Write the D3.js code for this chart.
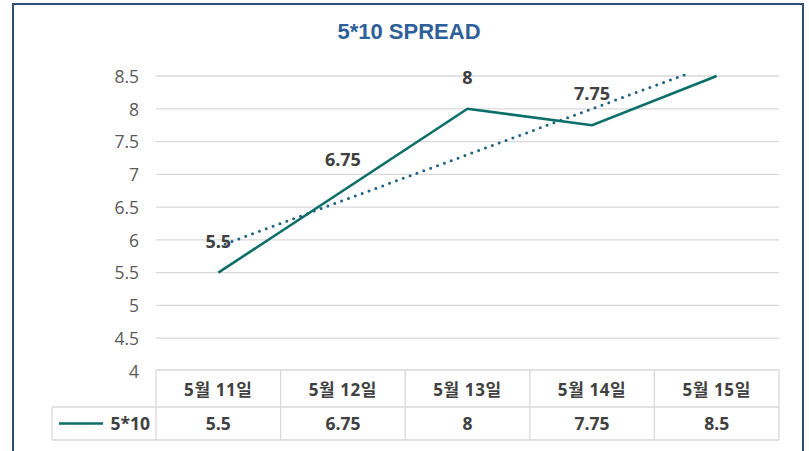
<!DOCTYPE html>
<html>
<head>
<meta charset="utf-8">
<script src="https://cdn.jsdelivr.net/npm/d3@7"></script>
<style>
  body { margin: 0; background: #fff; }
  svg { display: block; }
</style>
</head>
<body>
<div id="chart"></div>
<script>
// data
const categories = ['5월 11일', '5월 12일', '5월 13일', '5월 14일', '5월 15일'];
const seriesName = '5*10';
const values = [5.5, 6.75, 8, 7.75, 8.5];
const yTicks = [4, 4.5, 5, 5.5, 6, 6.5, 7, 7.5, 8, 8.5];

const W = 809, H = 451;
const margin = { left: 156, right: 30, top: 76, plotBottom: 371 };
const txtFont = '"Open Sans", "Noto Sans CJK KR", sans-serif';

const svg = d3.select('#chart').append('svg')
    .attr('width', W)
    .attr('height', H);

// chart frame
svg.append('rect')
    .attr('x', 13).attr('y', 4)
    .attr('width', 790).attr('height', 460)
    .attr('fill', '#fff')
    .attr('stroke', '#2f4f78')
    .attr('stroke-width', 2);

// title
svg.append('text')
    .attr('x', 409).attr('y', 39)
    .attr('text-anchor', 'middle')
    .style('font', 'bold 22px "Liberation Sans", Arial, sans-serif')
    .style('fill', '#2e5f98')
    .text('5*10 SPREAD');

const x = d3.scaleBand()
    .domain(categories)
    .range([margin.left, W - margin.right]);

const y = d3.scaleLinear()
    .domain([4, 8.5])
    .range([margin.plotBottom, margin.top]);

// grid
svg.append('g')
    .selectAll('line')
    .data(yTicks.slice(1))
    .join('line')
    .attr('x1', margin.left).attr('x2', W - margin.right)
    .attr('y1', d => y(d)).attr('y2', d => y(d))
    .attr('stroke', '#d9d9d9')
    .attr('stroke-width', 1.3);

// y axis labels
const yAxis = svg.append('g')
    .attr('transform', `translate(${margin.left - 17},0)`)
    .call(d3.axisLeft(y).tickValues(yTicks).tickSize(0).tickPadding(0).tickFormat(d => d));
yAxis.select('.domain').remove();
yAxis.selectAll('text')
    .attr('dy', '0.36em')
    .style('font', `17.5px ${txtFont}`)
    .style('fill', '#595959');

// clip for plot area
svg.append('clipPath').attr('id', 'plotClip')
    .append('rect')
    .attr('x', margin.left).attr('y', margin.top - 2)
    .attr('width', W - margin.right - margin.left)
    .attr('height', margin.plotBottom - margin.top + 2);

const cx = d => x(d) + x.bandwidth() / 2;

// linear trendline (least squares on the series)
const idx = values.map((v, i) => i);
const mx = d3.mean(idx), my = d3.mean(values);
const slope = d3.sum(idx, i => (i - mx) * (values[i] - my)) / d3.sum(idx, i => (i - mx) ** 2);
const icpt = my - slope * mx;
const step = x.step();
const trend = [0, values.length - 1].map(i => [cx(categories[0]) + i * step, y(icpt + slope * i)]);

svg.append('path')
    .attr('clip-path', 'url(#plotClip)')
    .attr('d', d3.line()(trend))
    .attr('fill', 'none')
    .attr('stroke', '#1d6384')
    .attr('stroke-width', 3)
    .attr('stroke-linecap', 'round')
    .attr('stroke-dasharray', '0 7.3');

// main line
svg.append('path')
    .datum(values)
    .attr('d', d3.line().x((d, i) => cx(categories[i])).y(d => y(d)))
    .attr('fill', 'none')
    .attr('stroke', '#0b6e69')
    .attr('stroke-width', 2.6)
    .attr('stroke-linejoin', 'miter');

// data labels (the one that would sit above the plot area is hidden, as in the original)
svg.append('g')
    .selectAll('text')
    .data(values.map((v, i) => ({ v, c: categories[i] })).filter(d => y(d.v) - 25 > 60))
    .join('text')
    .attr('x', d => cx(d.c))
    .attr('y', d => y(d.v) - 25)
    .attr('text-anchor', 'middle')
    .style('font', `bold 18px ${txtFont}`)
    .style('fill', '#404040')
    .text(d => d.v);

// data table
const tbl = svg.append('g');
const rowTop = 370, rowMid = 407, rowBot = 440, legLeft = 52;
const gridCol = '#d9d9d9';

tbl.append('line').attr('x1', margin.left).attr('x2', W - margin.right)
    .attr('y1', rowTop).attr('y2', rowTop).attr('stroke', gridCol).attr('stroke-width', 1.3);
tbl.append('line').attr('x1', legLeft).attr('x2', W - margin.right)
    .attr('y1', rowMid).attr('y2', rowMid).attr('stroke', gridCol).attr('stroke-width', 1.3);
tbl.append('line').attr('x1', legLeft).attr('x2', W - margin.right)
    .attr('y1', rowBot).attr('y2', rowBot).attr('stroke', gridCol).attr('stroke-width', 1.3);
tbl.append('line').attr('x1', legLeft).attr('x2', legLeft)
    .attr('y1', rowMid).attr('y2', rowBot).attr('stroke', gridCol).attr('stroke-width', 1.3);

tbl.selectAll('.vline')
    .data(categories.concat(['end']))
    .join('line')
    .attr('x1', (d, i) => margin.left + i * step)
    .attr('x2', (d, i) => margin.left + i * step)
    .attr('y1', rowTop).attr('y2', rowBot)
    .attr('stroke', gridCol).attr('stroke-width', 1.3);

tbl.selectAll('.cat')
    .data(categories)
    .join('text')
    .attr('x', d => cx(d))
    .attr('y', 396)
    .attr('text-anchor', 'middle')
    .style('font', `bold 17px ${txtFont}`)
    .style('letter-spacing', '0.6px')
    .style('fill', '#404040')
    .text(d => d);

tbl.selectAll('.val')
    .data(values)
    .join('text')
    .attr('x', (d, i) => cx(categories[i]))
    .attr('y', 430)
    .attr('text-anchor', 'middle')
    .style('font', `bold 17.5px ${txtFont}`)
    .style('fill', '#404040')
    .text(d => d);

// legend key in table
tbl.append('line')
    .attr('x1', 59).attr('x2', 103)
    .attr('y1', (rowMid + rowBot) / 2).attr('y2', (rowMid + rowBot) / 2)
    .attr('stroke', '#0b6e69').attr('stroke-width', 2.6);
tbl.append('text')
    .attr('x', 150).attr('y', 430)
    .attr('text-anchor', 'end')
    .style('font', `bold 17.5px ${txtFont}`)
    .style('fill', '#404040')
    .text(seriesName);
</script>
</body>
</html>
